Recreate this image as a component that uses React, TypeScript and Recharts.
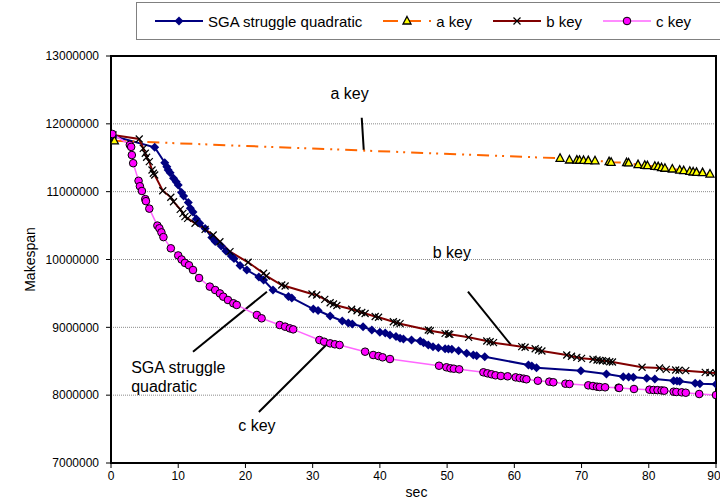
import React from "react";
import {
  LineChart,
  Line,
  XAxis,
  YAxis,
  CartesianGrid,
  ReferenceArea,
  ReferenceLine,
  ReferenceDot,
} from "recharts";

const FONT = '"Liberation Sans", Arial, sans-serif';

const xTicks = [0, 10, 20, 30, 40, 50, 60, 70, 80, 90];
const yTicks = [7000000, 8000000, 9000000, 10000000, 11000000, 12000000, 13000000];

// SGA struggle quadratic
const sgaSec = [
  0.3, 6.5, 8.0, 8.3, 8.5, 8.8, 9.3, 9.7, 10.0, 10.5, 10.8, 11.5, 11.8, 12.2, 12.7, 13.2, 14.0, 15.0, 15.5,
  16.4, 17.1, 17.9, 18.3, 19.2, 20.2, 22.0, 22.7, 24.1, 26.4, 26.9, 30.1, 30.8, 32.6, 34.4, 35.3, 35.9, 37.5,
  38.8, 40.0, 40.8, 41.5, 42.4, 43.0, 43.5, 44.7, 46.0, 46.5, 47.2, 47.9, 48.7, 49.7, 50.2, 50.7, 51.7, 52.9,
  53.9, 54.4, 55.6, 62.1, 62.6, 63.3, 69.9, 73.7, 76.2, 77.0, 77.7, 79.7, 80.9, 83.7, 84.2, 84.6, 86.9, 87.6, 90,
];
const sgaMakespan = [
  11820000, 11654000, 11427000, 11368000, 11319000, 11280000, 11197000, 11147000, 11098000, 10988000,
  10936000, 10840000, 10755000, 10700000, 10597000, 10534000, 10457000, 10324000, 10265000, 10199000,
  10125000, 10052000, 10015000, 9912000, 9845000, 9742000, 9698000, 9550000, 9455000, 9433000,
  9270000, 9248000, 9167000, 9094000, 9064000, 9049000, 9009000, 8961000, 8927000, 8916000,
  8887000, 8865000, 8838000, 8828000, 8813000, 8798000, 8774000, 8740000, 8715000, 8700000,
  8685000, 8681000, 8676000, 8656000, 8617000, 8592000, 8582000, 8567000, 8445000, 8430000,
  8405000, 8361000, 8312000, 8272000, 8268000, 8263000, 8249000, 8238000, 8213000, 8209000,
  8204000, 8175000, 8169000, 8160000,
];

// a key
const aSec = [
  0.5, 66.8, 68.2, 69.3, 69.7, 70.3, 71.0, 72.0, 74.1, 74.4, 76.7, 77.0, 78.4, 79.4, 79.8, 80.9, 81.4, 81.9,
  82.4, 83.5, 84.6, 85.2, 86.1, 86.6, 87.1, 88.0, 89.1,
];
const aMakespan = [
  11750000, 11492000, 11467000, 11465000, 11463000, 11460000, 11458000, 11455000, 11442000, 11433000,
  11427000, 11423000, 11398000, 11389000, 11383000, 11374000, 11368000, 11353000, 11345000, 11334000,
  11319000, 11309000, 11300000, 11290000, 11285000, 11280000, 11260000,
];

// b key
const bSec = [
  0.3, 4.2, 4.8, 5.1, 5.3, 5.7, 6.1, 6.3, 6.5, 7.7, 8.9, 9.3, 10.3, 10.7, 11.0, 11.4, 12.5, 14.0, 15.2, 16.2,
  17.7, 20.4, 22.7, 23.1, 25.4, 25.9, 29.9, 30.6, 31.8, 32.6, 33.1, 33.6, 35.8, 36.6, 37.3, 37.8, 39.3, 39.8,
  42.0, 42.5, 43.0, 47.2, 47.5, 49.7, 50.2, 50.4, 53.2, 55.9, 56.4, 56.9, 61.1, 61.6, 63.1, 63.6, 64.1, 67.8,
  68.5, 69.3, 70.0, 71.7, 72.3, 72.7, 73.1, 73.7, 74.2, 74.6, 79.0, 81.6, 82.6, 84.0, 84.5, 85.5, 88.4, 89.1, 90,
];
const bMakespan = [
  11835000, 11776000, 11639000, 11566000, 11507000, 11442000, 11319000, 11271000, 11246000, 11014000,
  10917000, 10852000, 10740000, 10681000, 10631000, 10607000, 10534000, 10445000, 10361000, 10262000,
  10115000, 9959000, 9797000, 9757000, 9624000, 9609000, 9491000, 9477000, 9413000, 9363000,
  9344000, 9322000, 9266000, 9245000, 9218000, 9204000, 9160000, 9148000, 9083000, 9068000,
  9054000, 8961000, 8950000, 8912000, 8902000, 8897000, 8853000, 8799000, 8788000, 8774000,
  8715000, 8706000, 8685000, 8666000, 8651000, 8592000, 8573000, 8558000, 8543000, 8529000,
  8518000, 8514000, 8508000, 8504000, 8493000, 8489000, 8411000, 8400000, 8381000, 8371000,
  8367000, 8361000, 8337000, 8331000, 8327000,
];

// c key
const cSec = [
  0.2, 2.8, 3.0, 3.1, 3.3, 4.1, 4.3, 4.6, 5.1, 5.2, 5.7, 6.9, 7.2, 7.5, 7.8, 8.9, 10.0, 10.5, 11.0, 11.6,
  12.2, 13.1, 14.7, 15.5, 16.2, 16.7, 17.4, 18.2, 18.7, 21.7, 22.4, 25.1, 25.9, 26.6, 27.1, 31.0, 31.7, 32.6,
  33.3, 34.0, 37.8, 39.0, 39.8, 40.4, 41.5, 48.8, 49.9, 50.5, 51.0, 51.8, 55.4, 56.0, 56.6, 57.2, 58.0, 59.0,
  60.2, 60.8, 61.4, 61.8, 63.5, 65.2, 65.8, 67.6, 68.2, 71.0, 71.7, 72.3, 72.7, 73.5, 75.5, 75.6, 77.8, 80.1,
  80.7, 81.3, 81.9, 82.3, 83.7, 84.1, 84.9, 85.5, 87.5, 90,
];
const cMakespan = [
  11850000, 11690000, 11660000, 11540000, 11420000, 11160000, 11080000, 11010000, 10890000, 10860000,
  10750000, 10500000, 10460000, 10400000, 10330000, 10165000, 10060000, 10000000, 9950000, 9915000,
  9845000, 9727000, 9600000, 9550000, 9500000, 9452000, 9403000, 9355000, 9330000, 9182000,
  9133000, 9034000, 9010000, 8985000, 8970000, 8813000, 8788000, 8764000, 8750000, 8740000,
  8641000, 8592000, 8577000, 8558000, 8533000, 8434000, 8411000, 8396000, 8390000, 8381000,
  8337000, 8322000, 8308000, 8293000, 8283000, 8278000, 8263000, 8253000, 8243000, 8234000,
  8213000, 8199000, 8190000, 8169000, 8165000, 8145000, 8135000, 8125000, 8120000, 8116000,
  8110000, 8106000, 8091000, 8081000, 8076000, 8074000, 8070000, 8066000, 8051000, 8047000,
  8042000, 8036000, 8017000, 8002000,
];

const toPoints = (xs: number[], ys: number[]) => xs.map((x, i) => ({ x, y: ys[i] }));

const sgaData = toPoints(sgaSec, sgaMakespan);
const aData = toPoints(aSec, aMakespan);
const bData = toPoints(bSec, bMakespan);
const cData = toPoints(cSec, cMakespan);

// callouts, in chart units
const calloutLines = [
  [{ x: 37.3, y: 12090000 }, { x: 37.6, y: 11614000 }],
  [{ x: 53.1, y: 9526000 }, { x: 59.5, y: 8740000 }],
  [{ x: 12.2, y: 8641000 }, { x: 23.2, y: 9525000 }],
  [{ x: 22.0, y: 7752000 }, { x: 32.3, y: 8769000 }],
];
const calloutTexts = [
  { x: 35.5, y: 12440000, text: "a key", anchor: "middle" },
  { x: 50.7, y: 10110000, text: "b key", anchor: "middle" },
  { x: 3.0, y: 8415000, text: "SGA struggle", anchor: "start" },
  { x: 3.0, y: 8135000, text: "quadratic", anchor: "start" },
  { x: 21.7, y: 7560000, text: "c key", anchor: "middle" },
];

const Diamond = (p: any) => {
  const { cx, cy, index } = p;
  if (cx == null || cy == null) return <g key={index} />;
  return (
    <path
      key={index}
      d={`M${cx},${cy - 4.5}L${cx + 4.5},${cy}L${cx},${cy + 4.5}L${cx - 4.5},${cy}Z`}
      fill="#000080"
    />
  );
};

const Triangle = (p: any) => {
  const { cx, cy, index } = p;
  if (cx == null || cy == null) return <g key={index} />;
  return (
    <path
      key={index}
      d={`M${cx},${cy - 4.5}L${cx + 4},${cy + 3}L${cx - 4},${cy + 3}Z`}
      fill="#FFFF00"
      stroke="#000"
      strokeWidth={1.3}
    />
  );
};

const Cross = (p: any) => {
  const { cx, cy, index } = p;
  if (cx == null || cy == null) return <g key={index} />;
  return (
    <path
      key={index}
      d={`M${cx - 3.5},${cy - 3.5}L${cx + 3.5},${cy + 3.5}M${cx - 3.5},${cy + 3.5}L${cx + 3.5},${cy - 3.5}`}
      stroke="#000"
      strokeWidth={1.2}
    />
  );
};

const Circle = (p: any) => {
  const { cx, cy, index } = p;
  if (cx == null || cy == null) return <g key={index} />;
  return <circle key={index} cx={cx} cy={cy} r={3.8} fill="#FF00FF" stroke="#000" strokeWidth={1} />;
};

const legendItems = [
  { name: "SGA struggle quadratic", color: "#000080", width: 2, dash: undefined, Marker: Diamond },
  { name: "a key", color: "#FF6600", width: 2, dash: "15 8", Marker: Triangle },
  { name: "b key", color: "#800000", width: 2, dash: undefined, Marker: Cross },
  { name: "c key", color: "#FF66FF", width: 1.5, dash: undefined, Marker: Circle },
];

function ChartLegend() {
  return (
    <div
      style={{
        position: "absolute",
        top: 2,
        left: 136,
        width: 566,
        height: 36,
        border: "1px solid #808080",
        background: "#fff",
        display: "flex",
        alignItems: "center",
        paddingLeft: 18,
        boxSizing: "content-box",
        fontFamily: FONT,
        fontSize: 15,
        color: "#000",
      }}
    >
      {legendItems.map((it, i) => (
        <div key={it.name} style={{ display: "flex", alignItems: "center", marginLeft: i === 0 ? 0 : 21 }}>
          <svg width={48} height={12} style={{ display: "block" }}>
            <line
              x1={0}
              y1={6}
              x2={48}
              y2={6}
              stroke={it.color}
              strokeWidth={it.width}
              strokeDasharray={it.dash}
            />
            <it.Marker cx={24} cy={6} index={0} />
          </svg>
          <span style={{ marginLeft: 5, whiteSpace: "nowrap" }}>{it.name}</span>
        </div>
      ))}
    </div>
  );
}

export default function App() {
  return (
    <div style={{ position: "absolute", left: 0, top: 0, width: 720, height: 502, background: "#fff" }}>
      <LineChart width={720} height={502} margin={{ top: 56, right: 4, bottom: 0, left: 0 }}>
        <CartesianGrid vertical={false} stroke="#8a8a8a" strokeDasharray="1 1" />
        <XAxis
          type="number"
          dataKey="x"
          domain={[0, 90]}
          ticks={xTicks}
          height={39}
          axisLine={false}
          tickLine={{ stroke: "#000" }}
          tickSize={5}
          tickMargin={3}
          tick={{ fill: "#000", fontSize: 12, fontFamily: FONT }}
          allowDataOverflow
          label={({ viewBox }: any) => (
            <text
              x={viewBox.x + viewBox.width / 2 + 3}
              y={viewBox.y + 34}
              textAnchor="middle"
              fontSize={14}
              fontFamily={FONT}
              fill="#000"
            >
              sec
            </text>
          )}
        />
        <YAxis
          type="number"
          dataKey="y"
          domain={[7000000, 13000000]}
          ticks={yTicks}
          width={111}
          axisLine={false}
          tickLine={{ stroke: "#000" }}
          tickSize={5}
          tickMargin={7}
          tick={{ fill: "#000", fontSize: 12, fontFamily: FONT }}
          allowDataOverflow
          label={({ viewBox }: any) => (
            <text
              x={viewBox.x + 30}
              y={viewBox.y + viewBox.height / 2}
              transform={`rotate(-90, ${viewBox.x + 30}, ${viewBox.y + viewBox.height / 2})`}
              textAnchor="middle"
              dominantBaseline="central"
              fontSize={14}
              fontFamily={FONT}
              fill="#000"
            >
              Makespan
            </text>
          )}
        />
        <ReferenceArea
          x1={0}
          x2={90}
          y1={7000000}
          y2={13000000}
          fill="none"
          fillOpacity={0}
          stroke="#000"
          strokeWidth={2}
        />
        {calloutLines.map((seg, i) => (
          <ReferenceLine key={"cl" + i} segment={seg} stroke="#000" strokeWidth={2} />
        ))}
        {calloutTexts.map((t, i) => (
          <ReferenceDot
            key={"ct" + i}
            x={t.x}
            y={t.y}
            r={0}
            shape={(p: any) => (
              <text
                x={p.cx}
                y={p.cy}
                textAnchor={t.anchor as any}
                dominantBaseline="central"
                fontSize={16}
                fontFamily={FONT}
                fill="#000"
              >
                {t.text}
              </text>
            )}
          />
        ))}
        <Line
          data={sgaData}
          dataKey="y"
          stroke="#000080"
          strokeWidth={2}
          dot={Diamond}
          activeDot={false}
          isAnimationActive={false}
        />
        <Line
          data={aData}
          dataKey="y"
          stroke="#FF6600"
          strokeWidth={2}
          strokeDasharray="12 6 2 5 2 6"
          dot={Triangle}
          activeDot={false}
          isAnimationActive={false}
        />
        <Line
          data={bData}
          dataKey="y"
          stroke="#800000"
          strokeWidth={2}
          dot={Cross}
          activeDot={false}
          isAnimationActive={false}
        />
        <Line
          data={cData}
          dataKey="y"
          stroke="#FF66FF"
          strokeWidth={1.5}
          dot={Circle}
          activeDot={false}
          isAnimationActive={false}
        />
      </LineChart>
      <ChartLegend />
    </div>
  );
}
